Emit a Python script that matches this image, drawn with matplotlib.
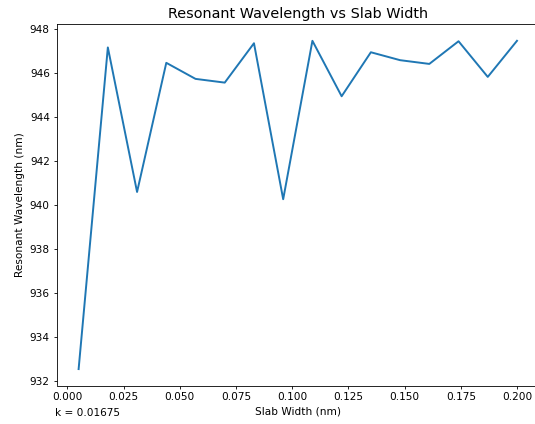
import numpy as np
import matplotlib
matplotlib.use("Agg")
import matplotlib.pyplot as plt

slab_width = [0.005, 0.018, 0.031, 0.044, 0.057, 0.070, 0.083, 0.096,
              0.109, 0.122, 0.135, 0.148, 0.161, 0.174, 0.187, 0.200]
wavelength = [932.55, 947.17, 940.6, 946.47, 945.74, 945.57, 947.36, 940.27,
              947.47, 944.95, 946.95, 946.59, 946.42, 947.45, 945.83, 947.47]

s = 0.76
fig = plt.figure(figsize=(5.35, 4.24), dpi=100)
ax = fig.add_axes([56.7/535, 1-385.5/424, 482.2/535, 361.1/424])
ax.plot(slab_width, wavelength, color="#1f77b4", linewidth=1.4)
ax.set_yticks(np.arange(932, 949, 2))
ax.set_xticks(np.arange(0, 0.2001, 0.025))
for sp in ax.spines.values():
    sp.set_linewidth(0.6)
ax.set_title("Resonant Wavelength vs Slab Width", fontsize=10.4, pad=4.5)
ax.set_xlabel("Slab Width (nm)", fontsize=10 * s, labelpad=3)
ax.set_ylabel("Resonant Wavelength (nm)", fontsize=10 * s, labelpad=3)
ax.tick_params(labelsize=10 * s, length=2.5, width=0.6, pad=2.5)
fig.text(55/535, 1-416/424, "k = 0.01675", fontsize=10 * s)
fig.savefig("out.png", dpi=100)
